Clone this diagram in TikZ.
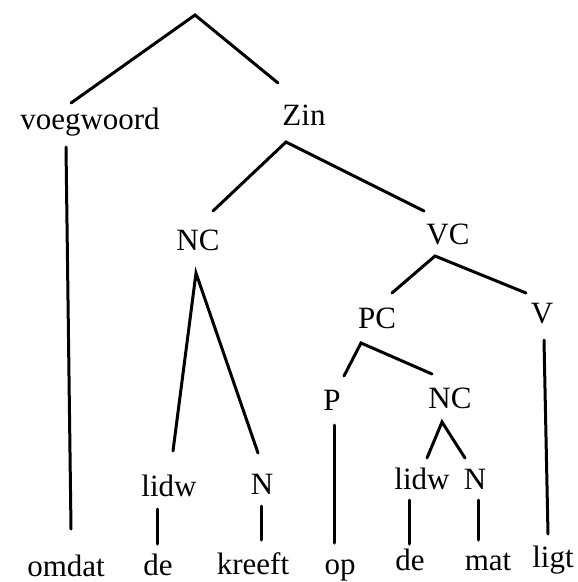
\documentclass[tikz,border=0pt]{standalone}
\usepackage{fontspec}
\setmainfont{Liberation Serif}
\begin{document}
\begin{tikzpicture}[x=1pt,y=-1pt,
  lbl/.style={inner sep=0pt,anchor=base,font=\fontsize{31}{37}\selectfont},
  branch/.style={line width=3pt,line cap=round,line join=miter}]
\useasboundingbox (0,0) rectangle (578,582);
% labels
\node[lbl] (voeg) at (90,129) {voegwoord};
\node[lbl] (zin) at (304,125) {Zin};
\node[lbl] (nc1) at (198,250) {NC};
\node[lbl] (vc) at (448,244) {VC};
\node[lbl] (pc) at (377,328) {PC};
\node[lbl] (v) at (542,323) {V};
\node[lbl] (p) at (332,410) {P};
\node[lbl] (nc2) at (450,408) {NC};
\node[lbl] (lidw1) at (169,496) {lidw};
\node[lbl] (n1) at (262,494) {N};
\node[lbl] (lidw2) at (422,489) {lidw};
\node[lbl] (n2) at (475,489) {N};
\node[lbl] (omdat) at (66,576) {omdat};
\node[lbl] (de1) at (158,575) {de};
\node[lbl] (kreeft) at (253,574) {kreeft};
\node[lbl] (op) at (340,574) {op};
\node[lbl] (de2) at (410,570) {de};
\node[lbl] (mat) at (488,570) {mat};
\node[lbl] (ligt) at (553,567) {ligt};
% connector points
\coordinate (root) at (195,15);
\coordinate (voegT) at (71,103);
\coordinate (zinT) at (278,83);
\coordinate (voegB) at (66,147);
\coordinate (omdatT) at (71,529);
\coordinate (zinB) at (286,142);
\coordinate (nc1T) at (213,211);
\coordinate (vcT) at (424,211);
\coordinate (nc1B) at (196,273);
\coordinate (lidw1T) at (173,451);
\coordinate (n1T) at (258,453);
\coordinate (vcB) at (435,256);
\coordinate (pcT) at (392,293);
\coordinate (vT) at (526,293);
\coordinate (pcB) at (361,343);
\coordinate (pT) at (344,376);
\coordinate (nc2T) at (432,374);
\coordinate (vB) at (544,340);
\coordinate (ligtT) at (548,534);
\coordinate (pB) at (334,425);
\coordinate (opT) at (334,543);
\coordinate (nc2B) at (442,422);
\coordinate (lidw2T) at (427,458);
\coordinate (n2T) at (465,458);
\coordinate (lidw1B) at (157,509);
\coordinate (de1T) at (157,544);
\coordinate (n1B) at (261,506);
\coordinate (kreeftT) at (261,540);
\coordinate (lidw2B) at (409,500);
\coordinate (de2T) at (409,544);
\coordinate (n2B) at (478,500);
\coordinate (matT) at (478,540);
% connectors
\draw[branch] (voegT) -- (root) -- (zinT);
\draw[branch] (voegB) -- (omdatT);
\draw[branch] (nc1T) -- (zinB) -- (vcT);
\draw[branch] (lidw1T) -- (nc1B) -- (n1T);
\draw[branch] (pcT) -- (vcB) -- (vT);
\draw[branch] (pT) -- (pcB) -- (nc2T);
\draw[branch] (vB) -- (ligtT);
\draw[branch] (pB) -- (opT);
\draw[branch] (lidw2T) -- (nc2B) -- (n2T);
\draw[branch] (lidw1B) -- (de1T);
\draw[branch] (n1B) -- (kreeftT);
\draw[branch] (lidw2B) -- (de2T);
\draw[branch] (n2B) -- (matT);
\end{tikzpicture}
\end{document}
